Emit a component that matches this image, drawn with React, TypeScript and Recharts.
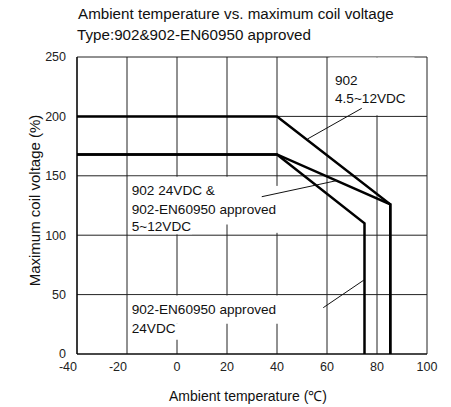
import React from 'react';
import {
  LineChart,
  Line,
  XAxis,
  YAxis,
  CartesianGrid,
  ReferenceArea,
  ReferenceLine,
  ReferenceDot,
} from 'recharts';

const FONT = '"Liberation Sans", Arial, Helvetica, sans-serif';

// Axis ticks
const xTicks = [-40, -20, 0, 20, 40, 60, 80, 100];
const yTicks = [0, 50, 100, 150, 200, 250];

// Curve: 902 4.5~12VDC
const temps902 = [-40, 40, 85.3, 85.3];
const volts902 = [200, 200, 126, 0];
// Curve: 902 24VDC & 902-EN60950 approved 5~12VDC
const temps902b = [-40, 40, 85.3, 85.3];
const volts902b = [168, 168, 126, 0];
// Curve: 902-EN60950 approved 24VDC
const tempsEN = [-40, 40, 75, 75];
const voltsEN = [168, 168, 110, 0];

// Annotation texts (left anchor, vertical centre, data coords)
const noteTexts = ['902', '4.5~12VDC', '902 24VDC &', '902-EN60950 approved', '5~12VDC', '902-EN60950 approved', '24VDC'];
const noteX = [63.2, 63.2, -18.1, -18.1, -18.1, -18.1, -18.1];
const noteY = [230.6, 215.2, 138.0, 121.8, 107.2, 37.9, 21.6];

// White label backgrounds (data coords)
const boxX1 = [61, -19.5, -19.5, 39.5, -19.5, -19.5];
const boxX2 = [95, 39.5, 6, 40.6, 41, 1];
const boxY1 = [201, 109, 100.8, 102, 25.5, 12];
const boxY2 = [249.5, 149.3, 109, 141.5, 49.3, 25.5];

// Leader lines (data coords)
const leadX1 = [73.9, 33.9, 58.5];
const leadY1 = [206.8, 132.4, 39.0];
const leadX2 = [52.2, 64.0, 74.8];
const leadY2 = [181.0, 146.0, 62.3];

const toPoints = (xs: number[], ys: number[]) => xs.map((t, i) => ({ t, v: ys[i] }));

const XTick = (props: any) => {
  const { x, y, payload } = props;
  const shift = payload.value < 0 ? -9 : 0;
  return (
    <text x={x + shift} y={y} dy="0.355em" textAnchor="middle" fontSize={12.5} fill="#222" fontFamily={FONT}>
      {payload.value}
    </text>
  );
};

const NoteShape = (text: string) => (p: any) => (
  <text x={p.cx} y={p.cy} dy="0.355em" textAnchor="start" fontSize={13.6} fill="#111" fontFamily={FONT}>
    {text}
  </text>
);

export default function App() {
  return (
    <div style={{ position: 'absolute', left: 0, top: 0, width: 451, height: 407, background: '#fff', fontFamily: FONT }}>
      <div style={{ position: 'absolute', left: 78, top: 4, fontSize: 15.2, color: '#111', whiteSpace: 'nowrap', lineHeight: '20px' }}>
        Ambient temperature vs. maximum coil voltage
      </div>
      <div style={{ position: 'absolute', left: 77, top: 25, fontSize: 15.2, color: '#111', whiteSpace: 'nowrap', lineHeight: '20px' }}>
        Type:902&amp;902-EN60950 approved
      </div>
      <div style={{ position: 'absolute', left: 0, top: 0 }}>
        <LineChart width={451} height={407} margin={{ top: 57, right: 24, bottom: 0, left: 0 }}>
          <CartesianGrid stroke="#222" strokeWidth={1} />
          <XAxis
            dataKey="t"
            type="number"
            domain={[-40, 100]}
            ticks={xTicks}
            interval={0}
            allowDataOverflow
            height={53}
            tickSize={0}
            tickMargin={13}
            axisLine={{ stroke: '#000', strokeWidth: 1.2 }}
            tick={<XTick />}
            label={{
              content: (p: any) => (
                <text
                  x={p.viewBox.x + p.viewBox.width / 2 - 4}
                  y={p.viewBox.y + 47}
                  textAnchor="middle"
                  fontSize={14}
                  fill="#111"
                  fontFamily={FONT}
                >
                  Ambient temperature (℃)
                </text>
              ),
            }}
          />
          <YAxis
            type="number"
            domain={[0, 250]}
            ticks={yTicks}
            interval={0}
            allowDataOverflow
            width={77}
            tickSize={0}
            tickMargin={11}
            axisLine={{ stroke: '#000', strokeWidth: 1.2 }}
            tick={{ fontSize: 12.5, fill: '#222', fontFamily: FONT }}
            label={{
              content: (p: any) => {
                const cx = p.viewBox.x + 35;
                const cy = p.viewBox.y + p.viewBox.height / 2 - 5;
                return (
                  <text
                    x={cx}
                    y={cy}
                    dy="0.355em"
                    transform={`rotate(-90, ${cx}, ${cy})`}
                    textAnchor="middle"
                    fontSize={15}
                    fill="#111"
                    fontFamily={FONT}
                  >
                    Maximum coil voltage (%)
                  </text>
                );
              },
            }}
          />
          {boxX1.map((x1, i) => (
            <ReferenceArea
              key={'b' + i}
              x1={x1}
              x2={boxX2[i]}
              y1={boxY1[i]}
              y2={boxY2[i]}
              fill="#fff"
              fillOpacity={1}
              stroke="none"
              ifOverflow="extendDomain"
            />
          ))}
          <Line data={toPoints(temps902, volts902)} dataKey="v" type="linear" stroke="#000" strokeWidth={2.5} dot={false} isAnimationActive={false} strokeLinejoin="miter" />
          <Line data={toPoints(temps902b, volts902b)} dataKey="v" type="linear" stroke="#000" strokeWidth={2.5} dot={false} isAnimationActive={false} strokeLinejoin="miter" />
          <Line data={toPoints(tempsEN, voltsEN)} dataKey="v" type="linear" stroke="#000" strokeWidth={2.5} dot={false} isAnimationActive={false} strokeLinejoin="miter" />
          {leadX1.map((x1, i) => (
            <ReferenceLine
              key={'l' + i}
              segment={[
                { x: x1, y: leadY1[i] },
                { x: leadX2[i], y: leadY2[i] },
              ]}
              stroke="#111"
              strokeWidth={1}
            />
          ))}
          {noteTexts.map((txt, i) => (
            <ReferenceDot key={'n' + i} x={noteX[i]} y={noteY[i]} r={0} shape={NoteShape(txt)} />
          ))}
        </LineChart>
      </div>
    </div>
  );
}
